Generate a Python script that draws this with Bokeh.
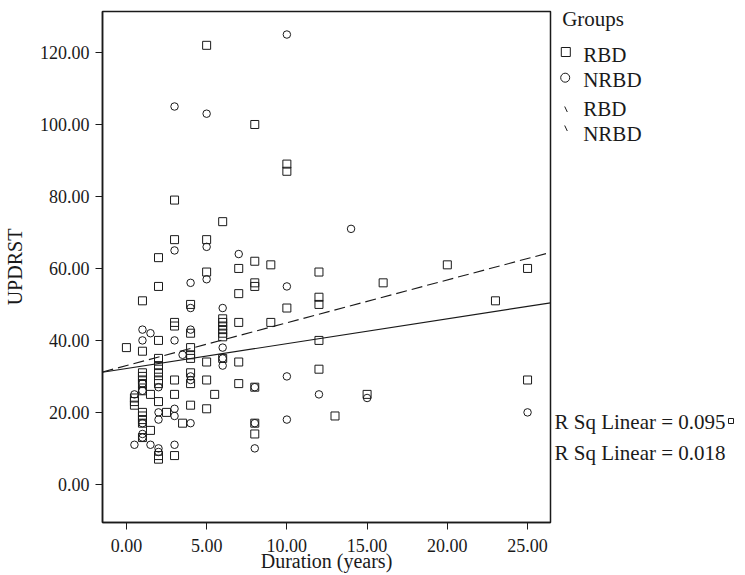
import numpy as np
from bokeh.plotting import figure
from bokeh.layouts import row
from bokeh.models import Range1d, FixedTicker, NumeralTickFormatter
from bokeh.core.properties import value
from bokeh.embed import file_html
from bokeh.resources import INLINE

# ---------------- data ----------------
rbd_duration = ([0] + [0.5] * 3 + [1] * 12 + [1.5] * 2 + [2] * 12 + [2.5] + [3] * 7 + [3.5]
                + [4] * 8 + [5] * 6 + [5.5] + [6] * 8 + [7] * 5 + [8] * 7 + [9] * 2 + [10] * 3
                + [12] * 5 + [13] + [15] + [16] + [20] + [23] + [25] * 2)
rbd_updrst = ([38]
              + [24, 23, 22]
              + [51, 37, 31, 30, 29, 28, 26, 20, 19, 18, 17, 13]
              + [25, 15]
              + [63, 55, 40, 35, 33, 32, 31, 29, 28, 23, 8, 7]
              + [20]
              + [79, 68, 45, 44, 29, 25, 8]
              + [17]
              + [50, 42, 38, 36, 35, 31, 28, 22]
              + [122, 68, 59, 34, 29, 21]
              + [25]
              + [73, 46, 45, 44, 43, 42, 41, 35]
              + [60, 53, 45, 34, 28]
              + [100, 62, 56, 55, 27, 17, 14]
              + [61, 45]
              + [89, 87, 49]
              + [59, 52, 50, 40, 32]
              + [19] + [25] + [56] + [61] + [51]
              + [60, 29])

nrbd_duration = ([0.5] * 2 + [1] * 7 + [1.5] * 2 + [2] * 5 + [3] * 6 + [3.5] + [4] * 6
                 + [5] * 3 + [6] * 4 + [7] + [8] * 3 + [10] * 4 + [12] + [14] + [15] + [25])
nrbd_updrst = ([25, 11]
               + [43, 40, 28, 26, 17, 14, 13]
               + [42, 11]
               + [27, 20, 18, 10, 9]
               + [105, 65, 40, 21, 19, 11]
               + [36]
               + [56, 49, 43, 30, 29, 17]
               + [103, 66, 57]
               + [49, 38, 35, 33]
               + [64]
               + [27, 17, 10]
               + [125, 55, 30, 18]
               + [25] + [71] + [24] + [20])

# fit lines (intercept, slope)
rbd_fit = (33.0, 1.19)
nrbd_fit = (32.2, 0.69)

x_ticks = [0, 5, 10, 15, 20, 25]
y_ticks = [0, 20, 40, 60, 80, 100, 120]
x_title = "Duration (years)"
y_title = "UPDRST"
legend_texts = ["Groups", "RBD", "NRBD", "RBD", "NRBD"]
rsq_texts = ["R Sq Linear = 0.095", "R Sq Linear = 0.018"]

X_MIN, X_MAX = -1.49, 26.43
Y_MIN, Y_MAX = -10.6, 131.4

FONT = "Liberation Serif"
INK = "#1a1a1a"

# ---------------- main scatter plot ----------------
p = figure(width=553, height=575, output_backend="svg", toolbar_location=None,
           x_range=Range1d(X_MIN, X_MAX), y_range=Range1d(Y_MIN, Y_MAX),
           min_border_left=101, min_border_right=3, min_border_top=11,
           min_border_bottom=53)
p.background_fill_color = "white"
p.border_fill_color = "white"
p.outline_line_color = INK
p.outline_line_width = 1.5
p.xgrid.visible = False
p.ygrid.visible = False

for ax in (p.xaxis[0], p.yaxis[0]):
    ax.formatter = NumeralTickFormatter(format="0.00")
    ax.major_label_text_font = FONT
    ax.major_label_text_font_size = "18px"
    ax.major_label_text_color = INK
    ax.axis_line_color = INK
    ax.axis_line_width = 1.5
    ax.major_tick_line_color = INK
    ax.major_tick_in = 0
    ax.major_tick_out = 7
    ax.minor_tick_line_color = None
    ax.axis_label_text_font = FONT
    ax.axis_label_text_font_size = "20px"
    ax.axis_label_text_font_style = "normal"
    ax.axis_label_text_color = INK

p.xaxis.ticker = FixedTicker(ticks=x_ticks)
p.yaxis.ticker = FixedTicker(ticks=y_ticks)
p.xaxis.major_label_standoff = 9
p.yaxis.major_label_standoff = 6
p.xaxis.axis_label = x_title
p.xaxis.axis_label_standoff = -5
p.yaxis.axis_label = y_title
p.yaxis.axis_label_standoff = 11

xs = np.array([X_MIN, X_MAX])
p.line(xs, rbd_fit[0] + rbd_fit[1] * xs, line_color=INK, line_width=1.1,
       line_dash="11 5")
p.line(xs, nrbd_fit[0] + nrbd_fit[1] * xs, line_color=INK, line_width=1.1)

p.scatter(rbd_duration, rbd_updrst, marker="square", size=8,
          fill_color=None, line_color=INK, line_width=1)
p.scatter(nrbd_duration, nrbd_updrst, marker="circle", size=7.5,
          fill_color=None, line_color=INK, line_width=1)

# ---------------- side panel: legend and R² notes (pixel layout) ----------------
# the row aligns this panel's frame with the main frame (page y 11..522)
s = figure(width=184, height=575, output_backend="svg", toolbar_location=None,
           x_range=Range1d(553, 737), y_range=Range1d(522, 11),
           min_border=0, x_axis_location=None, y_axis_location=None)
s.background_fill_color = "white"
s.border_fill_color = "white"
s.outline_line_color = None
s.xgrid.visible = False
s.ygrid.visible = False

legend_text_x = [561.7, 582.7, 582.7, 582.7, 582.7]
legend_text_base = [18.5, 54, 79.7, 108, 133]
s.text(x=legend_text_x, y=legend_text_base, text=legend_texts,
       text_font=value(FONT), text_font_size=value("21px"), text_color=INK,
       text_align="left", text_baseline="alphabetic")

s.scatter(x=[565.3], y=[51.5], marker="square", size=9, fill_color=None,
          line_color=INK, line_width=1)
s.scatter(x=[564.7], y=[77.2], marker="circle", size=9, fill_color=None,
          line_color=INK, line_width=1)
s.segment(x0=[564.2, 564.2], y0=[106, 125], x1=[566.8, 566.8], y1=[111.5, 130.5],
          line_color=INK, line_width=1)

s.text(x=[554, 554], y=[421.5, 452], text=rsq_texts,
       text_font=value(FONT), text_font_size=value("21px"), text_color=INK,
       text_align="left", text_baseline="alphabetic")
s.scatter(x=[730.5], y=[420.5], marker="square", size=5, fill_color=None,
          line_color=INK, line_width=1)

layout = row(p, s)
open("out.html", "w").write(file_html(layout, INLINE))
